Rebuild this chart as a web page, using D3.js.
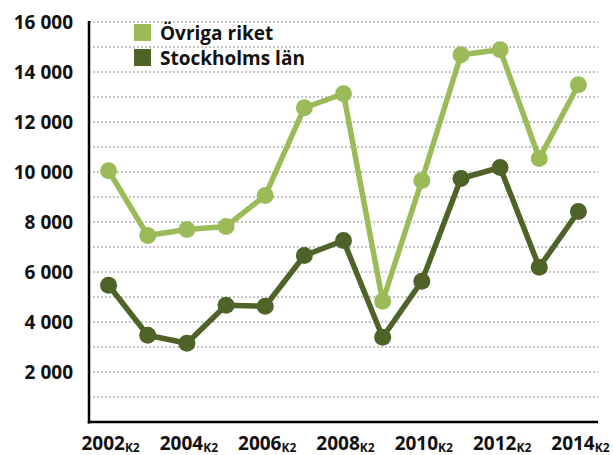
<!DOCTYPE html>
<html><head><meta charset="utf-8">
<script src="https://cdn.jsdelivr.net/npm/d3@7"></script>
<style>
html,body{margin:0;padding:0;background:#fff;}
svg text{font-family:"Open Sans","DejaVu Sans",sans-serif;font-weight:bold;fill:#111;}
</style></head>
<body>
<svg id="chart" width="613" height="455"></svg>
<script>
const years = [2002,2003,2004,2005,2006,2007,2008,2009,2010,2011,2012,2013,2014];
const ovrigaRiket = [10050,7460,7700,7820,9060,12570,13130,4830,9660,14690,14890,10540,13490];
const stockholmsLan = [5470,3470,3150,4670,4630,6660,7260,3390,5630,9740,10180,6190,8420];
const seriesNames = ["Övriga riket","Stockholms län"];
const seriesColors = ["#9BBB59","#4F6228"];
const yTicks = [2000,4000,6000,8000,10000,12000,14000,16000];
const gridTicks = d3.range(1000,16001,1000);
const xTickYears = [2002,2004,2006,2008,2010,2012,2014];
const tickSuffix = "K2";

const svg = d3.select("#chart");
const pLeft = 89, pRight = 598, pTop = 22, pBottom = 422;

const x = d3.scalePoint().domain(years).range([pLeft,pRight]).padding(0.5);
const y = d3.scaleLinear().domain([0,16000]).range([pBottom,pTop]);

// gridlines
svg.append("g").selectAll("line").data(gridTicks).join("line")
  .attr("x1",pLeft).attr("x2",pRight)
  .attr("y1",d=>y(d)).attr("y2",d=>y(d))
  .attr("stroke","#8a8a8a").attr("stroke-width",1.2)
  .attr("stroke-dasharray","2,2");

// y labels
const fmt = d => d3.format(",")(d).replace(",", " ");
svg.append("g").selectAll("text").data(yTicks).join("text")
  .attr("x",73).attr("y",d=>y(d)+7)
  .attr("text-anchor","end").attr("font-size",19)
  .text(fmt);

// x labels
const xl = svg.append("g").selectAll("text").data(xTickYears).join("text")
  .attr("x",d=>x(d)+2).attr("y",450)
  .attr("text-anchor","middle").attr("font-size",19);
xl.append("tspan").text(d=>d);
xl.append("tspan").attr("font-size",12).attr("dy",2).text(tickSuffix);

// axes
svg.append("line").attr("x1",pLeft).attr("x2",pLeft).attr("y1",pTop-1).attr("y2",pBottom+1.5)
  .attr("stroke","#000").attr("stroke-width",2.5);
svg.append("line").attr("x1",pLeft-1.2).attr("x2",pRight).attr("y1",pBottom).attr("y2",pBottom)
  .attr("stroke","#000").attr("stroke-width",2.5);

// series
const data = [ovrigaRiket, stockholmsLan];
const line = d3.line().x((d,i)=>x(years[i])).y(d=>y(d));
data.forEach((vals,k)=>{
  const g = svg.append("g");
  g.append("path").datum(vals).attr("d",line)
    .attr("fill","none").attr("stroke",seriesColors[k]).attr("stroke-width",5.5)
    .attr("stroke-linejoin","round");
  g.selectAll("circle").data(vals).join("circle")
    .attr("cx",(d,i)=>x(years[i])).attr("cy",d=>y(d)).attr("r",8.5)
    .attr("fill",seriesColors[k]);
});

// legend
const lg = svg.append("g");
seriesNames.forEach((n,k)=>{
  lg.append("rect").attr("x",134).attr("y",24+k*25).attr("width",17).attr("height",17)
    .attr("fill",seriesColors[k]);
  lg.append("text").attr("x",160).attr("y",39.5+k*25).attr("font-size",19).text(n);
});
</script>
</body></html>
